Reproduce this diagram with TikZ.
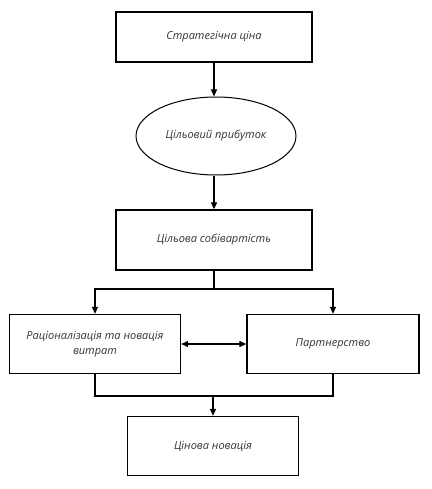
\documentclass[tikz,border=0pt]{standalone}
\usepackage{fontspec}
\setmainfont{Open Sans}
\usepackage{tikz}
\usetikzlibrary{shapes.geometric,arrows.meta,positioning}

\begin{document}
\begin{tikzpicture}[x=1pt, y=-1pt,
      blok/.style={draw, line width=1.3pt, align=center, text=black!80, font=\itshape\fontsize{11}{15}\selectfont},
      oval/.style={draw, ellipse, line width=1pt, align=center, text=black!80, font=\itshape\fontsize{11}{15}\selectfont, minimum width=160pt, minimum height=78pt},
      link/.style={line width=1.2pt, -{Triangle[width=6pt,length=7pt]}}
    ]
    \useasboundingbox (0,0) rectangle (431,489);
    \node[blok, minimum width=196pt, minimum height=50pt] (strat) at (214,37) {Стратегічна ціна};
    \node[oval] (prib) at (216,136) {Цільовий прибуток};
    \node[blok, minimum width=196pt, minimum height=60pt] (sobiv) at (214,240) {Цільова собівартість};
    \node[blok, minimum width=171pt, minimum height=59pt] (rac) at (95,344) {Раціоналізація та новація\\витрат};
    \node[blok, minimum width=172pt, minimum height=59pt] (partn) at (333,344) {Партнерство};
    \node[blok, minimum width=171pt, minimum height=59pt] (novac) at (213,446) {Цінова новація};
    \coordinate (rozg) at (214,289);
    \coordinate (zbir) at (213,396);

    \draw[link] (strat) -- (strat.south |- prib.north);
    \draw[link] (strat.south |- prib.south) -- (sobiv);
    \draw[line width=1.2pt] (sobiv) -- (rozg);
    \draw[link] (rozg) -| (rac.north);
    \draw[link] (rozg) -| (partn.north);
    \draw[link, {Triangle[width=6pt,length=7pt]}-{Triangle[width=6pt,length=7pt]}] (rac) -- (partn);
    \draw[line width=1.2pt] (rac.south) |- (zbir) -| (partn.south);
    \draw[link] (zbir) -- (novac);
  \end{tikzpicture}
\end{document}
